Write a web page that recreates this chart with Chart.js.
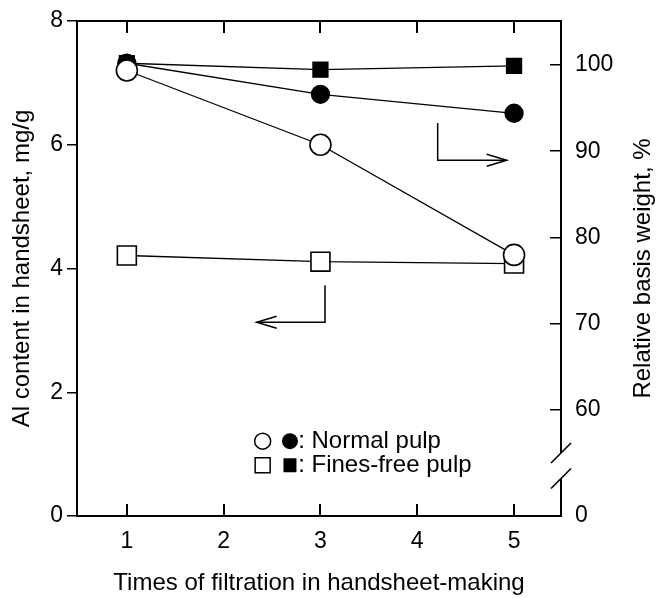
<!DOCTYPE html>
<html lang="en">
<head>
<meta charset="UTF-8">
<title>Al content and relative basis weight</title>
<script src="https://cdn.jsdelivr.net/npm/chart.js@4/dist/chart.umd.min.js"></script>
<style>
  html, body { margin: 0; padding: 0; background: #fff; }
  #wrap { width: 657px; height: 598px; }
</style>
</head>
<body>
<div id="wrap"><canvas id="myChart" width="657" height="598"></canvas></div>
<script>
    // data
    const times = [1, 3, 5];
    const alNormal = [7.2, 6.0, 4.22];        // open circles, left axis (mg/g)
    const alFinesFree = [4.21, 4.11, 4.08];   // open squares, left axis
    const basisNormal = [100.2, 96.6, 94.4];  // filled circles, right axis (%)
    const basisFinesFree = [100.2, 99.45, 99.9]; // filled squares, right axis

    const xTicks = [1, 2, 3, 4, 5];
    const leftTicks = [0, 2, 4, 6, 8];
    const rightTicks = [60, 70, 80, 90, 100];
    const rightBase = 47.7;   // broken axis: bottom of right scale is labelled "0"
    const rightTop = 105.1;

    const FONT = "'Liberation Sans', Arial, Helvetica, sans-serif";
    Chart.defaults.font.family = FONT;
    Chart.defaults.color = '#000';

    const pts = (ys) => times.map((t, i) => ({ x: t, y: ys[i] }));
    const fixTicks = (list) => (scale) => { scale.ticks = list.map(v => ({ value: v })); };
    // fixed axis size, and no extra room for overhanging labels
    const fitTo = (prop, size) => (s) => {
        s[prop] = size;
        s.paddingTop = 0; s.paddingBottom = 0; s.paddingLeft = 0; s.paddingRight = 0;
    };

    // inward x ticks, right axis title (reads bottom to top), axis break, arrows and legend
    const extras = {
        id: 'extras',
        afterDraw(chart) {
            const { ctx, chartArea, scales } = chart;
            const x = scales.x, y = scales.y, y2 = scales.y2;
            ctx.save();
            ctx.strokeStyle = '#000';
            ctx.fillStyle = '#000';

            // tick marks pointing into the plot, top and bottom
            xTicks.forEach(v => {
                const px = Math.round(x.getPixelForValue(v)) - 1;
                ctx.fillRect(px, chartArea.bottom - 12, 2, 12);
                ctx.fillRect(px, chartArea.top, 2, 12);
            });

            // right title
            ctx.font = '24px ' + FONT;
            ctx.textAlign = 'center';
            ctx.textBaseline = 'middle';
            ctx.translate(643, (chartArea.top + chartArea.bottom) / 2);
            ctx.rotate(-Math.PI / 2);
            ctx.fillText('Relative basis weight, %', 0, 0);
            ctx.setTransform(1, 0, 0, 1, 0, 0);

            // axis break on the right
            const rx = chartArea.right;
            const b1 = y2.getPixelForValue(55.0), b2 = y2.getPixelForValue(52.05);
            ctx.fillStyle = '#fff';
            ctx.fillRect(rx - 3, b1, 6, b2 - b1);
            ctx.lineWidth = 1.6;
            [b1, b2].forEach(by => {
                ctx.beginPath();
                ctx.moveTo(rx - 10, by + 10);
                ctx.lineTo(rx + 10, by - 10);
                ctx.stroke();
            });

            // arrows pointing to the axis each group belongs to
            const arrow = (path) => {
                const p = path.map(([a, b]) => [x.getPixelForValue(a), y.getPixelForValue(b)]);
                ctx.lineWidth = 1.5;
                ctx.beginPath();
                ctx.moveTo(p[0][0], p[0][1]);
                p.slice(1).forEach(q => ctx.lineTo(q[0], q[1]));
                ctx.stroke();
                const [tx, ty] = p[p.length - 1];
                const dir = Math.sign(tx - p[p.length - 2][0]);
                ctx.beginPath();
                ctx.moveTo(tx - dir * 20, ty - 6);
                ctx.lineTo(tx, ty);
                ctx.lineTo(tx - dir * 20, ty + 6);
                ctx.stroke();
            };
            arrow([[4.211, 6.35], [4.211, 5.75], [4.924, 5.75]]);
            arrow([[3.047, 3.73], [3.047, 3.13], [2.341, 3.13]]);

            // legend
            const lx1 = x.getPixelForValue(2.403), lx2 = x.getPixelForValue(2.685);
            const tx = x.getPixelForValue(2.77);
            const r1 = y.getPixelForValue(1.21), r2 = y.getPixelForValue(0.82);
            ctx.lineWidth = 1.5;
            ctx.fillStyle = '#fff';
            ctx.beginPath(); ctx.arc(lx1, r1, 8, 0, Math.PI * 2); ctx.fill(); ctx.stroke();
            ctx.fillStyle = '#000';
            ctx.beginPath(); ctx.arc(lx2, r1, 8, 0, Math.PI * 2); ctx.fill();
            ctx.strokeRect(lx1 - 7.5, r2 - 7.5, 15, 15);
            ctx.fillRect(lx2 - 6.5, r2 - 7, 13, 14);
            ctx.font = '24px ' + FONT;
            ctx.textAlign = 'left';
            ctx.textBaseline = 'middle';
            ctx.fillText(': Normal pulp', tx, r1);
            ctx.fillText(': Fines-free pulp', tx, r2);
            ctx.restore();
        }
    };

    const axisLine = { display: true, color: '#000', width: 2 };
    const tickFont = { size: 23 };
    const titleFont = { size: 24 };

    const ctx = document.getElementById('myChart').getContext('2d');
    const chart = new Chart(ctx, {
        type: 'line',
        data: {
            datasets: [
                {
                    label: 'Normal pulp, Al content',
                    data: pts(alNormal),
                    yAxisID: 'y',
                    borderColor: '#000',
                    borderWidth: 1.3,
                    pointStyle: 'circle',
                    pointRadius: 10.5,
                    pointBackgroundColor: '#fff',
                    pointBorderColor: '#000',
                    pointBorderWidth: 1.6,
                    order: 1
                },
                {
                    label: 'Fines-free pulp, Al content',
                    data: pts(alFinesFree),
                    yAxisID: 'y',
                    borderColor: '#000',
                    borderWidth: 1.3,
                    pointStyle: 'rect',
                    pointRadius: 13.4,
                    pointBackgroundColor: '#fff',
                    pointBorderColor: '#000',
                    pointBorderWidth: 1.6,
                    order: 2
                },
                {
                    label: 'Normal pulp, basis weight',
                    data: pts(basisNormal),
                    yAxisID: 'y2',
                    borderColor: '#000',
                    borderWidth: 1.3,
                    pointStyle: 'circle',
                    pointRadius: 9,
                    pointBackgroundColor: '#000',
                    pointBorderColor: '#000',
                    order: 3
                },
                {
                    label: 'Fines-free pulp, basis weight',
                    data: pts(basisFinesFree),
                    yAxisID: 'y2',
                    borderColor: '#000',
                    borderWidth: 1.3,
                    pointStyle: 'rect',
                    pointRadius: 10.6,
                    pointBackgroundColor: '#000',
                    pointBorderColor: '#000',
                    order: 4
                }
            ]
        },
        options: {
            responsive: false,
            animation: false,
            devicePixelRatio: 1,
            layout: { padding: 0 },
            plugins: {
                legend: { display: false },
                tooltip: { enabled: false }
            },
            scales: {
                x: {
                    type: 'linear',
                    position: 'bottom',
                    min: 0.485,
                    max: 5.485,
                    afterBuildTicks: fixTicks(xTicks),
                    afterFit: fitTo('height', 82),
                    grid: { drawOnChartArea: false, drawTicks: false },
                    border: axisLine,
                    ticks: { font: tickFont, padding: 12, maxRotation: 0, autoSkip: false },
                    title: {
                        display: true,
                        text: 'Times of filtration in handsheet-making',
                        font: titleFont,
                        padding: { top: 0, bottom: 0 }
                    }
                },
                xTop: {
                    type: 'linear',
                    position: 'top',
                    min: 0.485,
                    max: 5.485,
                    afterBuildTicks: fixTicks(xTicks),
                    afterFit: fitTo('height', 21),
                    grid: { drawOnChartArea: false, drawTicks: false },
                    border: axisLine,
                    ticks: { display: false }
                },
                y: {
                    type: 'linear',
                    position: 'left',
                    min: 0,
                    max: 8,
                    afterBuildTicks: fixTicks(leftTicks),
                    afterFit: fitTo('width', 77),
                    grid: { drawOnChartArea: false, tickLength: 10, color: '#000', lineWidth: 1.5 },
                    border: axisLine,
                    ticks: { font: tickFont, padding: 4 },
                    title: {
                        display: true,
                        text: 'Al content in handsheet, mg/g',
                        font: titleFont,
                        padding: { top: 8, bottom: 0 }
                    }
                },
                y2: {
                    type: 'linear',
                    position: 'right',
                    min: rightBase,
                    max: rightTop,
                    afterBuildTicks: fixTicks([rightBase].concat(rightTicks)),
                    afterFit: fitTo('width', 96),
                    grid: {
                        drawOnChartArea: false,
                        tickLength: -11,
                        lineWidth: 1.5,
                        color: c => (c.tick && c.tick.value === rightBase) ? 'rgba(0,0,0,0)' : '#000'
                    },
                    border: axisLine,
                    ticks: {
                        font: tickFont,
                        padding: 25,
                        callback: v => v === rightBase ? '0' : String(v)
                    }
                }
            }
        },
        plugins: [extras]
    });
</script>
</body>
</html>
